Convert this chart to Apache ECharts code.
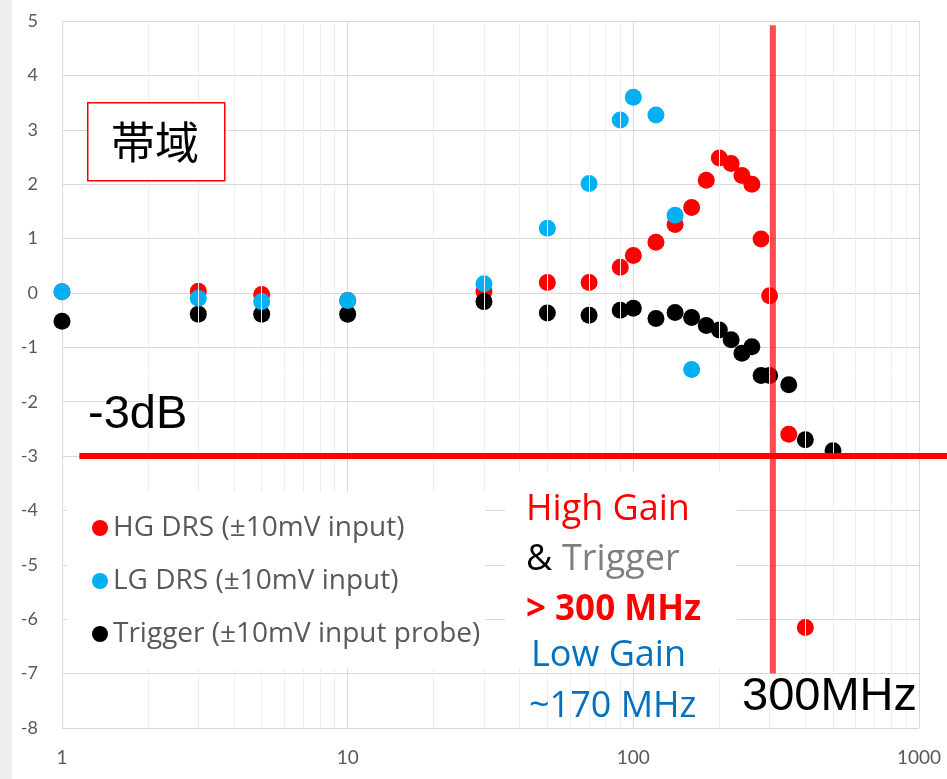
<!DOCTYPE html>
<html>
<head>
<meta charset="utf-8">
<script src="https://cdn.jsdelivr.net/npm/echarts@6/dist/echarts.min.js"></script>
<style>
html,body{margin:0;padding:0;background:#fff;}
#strip{position:absolute;left:0;top:0;width:12px;height:779px;background:#efefef;}
#main{position:absolute;left:0;top:0;width:947px;height:779px;}
</style>
</head>
<body>
<div id="main"></div>
<div id="strip"></div>
<script>
// ---- data (frequency in MHz, gain in dB) ----
const freqHG = [1, 3, 5, 10, 30, 50, 70, 90, 100, 120, 140, 160, 180, 200, 220, 240, 260, 280, 300, 350, 400];
const gainHG = [0.02, 0.03, -0.03, -0.14, 0.03, 0.19, 0.19, 0.47, 0.69, 0.93, 1.26, 1.57, 2.07, 2.48, 2.38, 2.16, 2.0, 0.99, -0.05, -2.6, -6.15];

const freqLG = [1, 3, 5, 10, 30, 50, 70, 90, 100, 120, 140, 160];
const gainLG = [0.02, -0.1, -0.16, -0.14, 0.17, 1.19, 2.01, 3.18, 3.6, 3.27, 1.43, -1.41];

const freqTrig = [1, 3, 5, 10, 30, 50, 70, 90, 100, 120, 140, 160, 180, 200, 220, 240, 260, 280, 300, 350, 400, 500];
const gainTrig = [-0.52, -0.39, -0.39, -0.39, -0.16, -0.37, -0.41, -0.32, -0.28, -0.47, -0.36, -0.45, -0.6, -0.68, -0.86, -1.11, -0.99, -1.52, -1.52, -1.69, -2.7, -2.9];

const seriesNames = ['HG DRS (±10mV input)', 'LG DRS (±10mV input)', 'Trigger (±10mV input probe)'];
const xTicks = [1, 10, 100, 1000];
const minorX = [2,3,4,5,6,7,8,9,20,30,40,50,60,70,80,90,200,300,400,500,600,700,800,900];
const limitDb = -3;
const limitFreqLine = 308;   // hand-placed 300 MHz marker line

function pairs(xs, ys) { return xs.map((x, i) => [x, ys[i]]); }

const chart = echarts.init(document.getElementById('main'), null, {renderer: 'canvas'});
const FONT = 'Lato';
const TFONT = '"Open Sans"';

chart.setOption({
  animation: false,
  backgroundColor: '#fff',
  grid: {left: 62, right: 28, top: 21, bottom: 51, containLabel: false},
  xAxis: {
    type: 'log', logBase: 10, min: 1, max: 1000,
    axisLine: {show: false}, axisTick: {show: false},
    splitLine: {show: true, lineStyle: {color: '#d9d9d9', width: 1}},
    axisLabel: {color: '#595959', fontFamily: FONT, fontSize: 19, margin: 20,
      formatter: v => (xTicks.indexOf(Math.round(v)) >= 0 ? String(Math.round(v)) : '')}
  },
  yAxis: {
    type: 'value', min: -8, max: 5, interval: 1,
    axisLine: {show: false}, axisTick: {show: false},
    splitLine: {show: true, lineStyle: {color: '#d9d9d9', width: 1}},
    axisLabel: {color: '#595959', fontFamily: FONT, fontSize: 18, margin: 24}
  },
  legend: {
    data: seriesNames,
    orient: 'vertical', left: 67, top: 492,
    backgroundColor: '#fff',
    padding: [21, 5, 20, 25],
    itemGap: 23, itemWidth: 16, itemHeight: 16, icon: 'circle',
    textStyle: {color: '#595959', fontFamily: 'Open Sans', fontSize: 28, lineHeight: 30},
    z: 6
  },
  series: [
    {
      name: 'minor', type: 'line', data: [], silent: true, z: 0,
      markLine: {
        silent: true, symbol: 'none', animation: false,
        label: {show: false},
        lineStyle: {color: '#eeeeee', width: 1, type: 'solid'},
        data: minorX.map(v => ({xAxis: v}))
      }
    },
    {name: seriesNames[0], type: 'scatter', symbolSize: 17, itemStyle: {color: '#ff0000', opacity: 1}, data: pairs(freqHG, gainHG), z: 2},
    {name: seriesNames[1], type: 'scatter', symbolSize: 17, itemStyle: {color: '#00b0f0', opacity: 1}, data: pairs(freqLG, gainLG), z: 3},
    {name: seriesNames[2], type: 'scatter', symbolSize: 17, itemStyle: {color: '#000000', opacity: 1}, data: pairs(freqTrig, gainTrig), z: 2}
  ]
});

// annotation lines positioned through the axes
const pH0 = chart.convertToPixel({gridIndex: 0}, [1.15, limitDb]);
const pV0 = chart.convertToPixel({gridIndex: 0}, [limitFreqLine, 4.92]);
const pV1 = chart.convertToPixel({gridIndex: 0}, [limitFreqLine, -7]);

chart.setOption({
  graphic: [
    // 帯域 box
    {type: 'rect', left: 87, top: 102, shape: {width: 137, height: 78},
      style: {fill: '#fff', stroke: '#ff0000', lineWidth: 1.5}, z: 10},
    {type: 'text', x: 155, y: 142, style: {text: '帯域', fill: '#000', font: '44px "Noto Sans CJK JP"', align: 'center', verticalAlign: 'middle'}, z: 11},
    // -3dB label
    {type: 'text', x: 88, y: 415, style: {text: '-3dB', fill: '#000', font: '47px "Liberation Sans"', verticalAlign: 'middle'}, z: 11},
    // horizontal -3 dB line
    {type: 'line', shape: {x1: pH0[0], y1: pH0[1], x2: 947, y2: pH0[1]},
      style: {stroke: '#ff0000', lineWidth: 6}, z: 12},
    // vertical 300 MHz line
    {type: 'line', shape: {x1: pV0[0], y1: pV0[1], x2: pV1[0], y2: pV1[1]},
      style: {stroke: 'rgba(255,0,0,0.7)', lineWidth: 6}, z: 12},
    // 300MHz label
    {type: 'text', x: 742, y: 697, style: {text: '300MHz', fill: '#000', font: '47px "Liberation Sans"', verticalAlign: 'middle'}, z: 11},
    // summary text box
    {type: 'rect', left: 505, top: 472, shape: {width: 232, height: 196}, style: {fill: '#fff'}, z: 9},
    {type: 'text', x: 526, y: 510, style: {text: 'High Gain', fill: '#ff0000', font: '36px ' + TFONT, verticalAlign: 'middle'}, z: 11},
    {type: 'text', x: 526, y: 560, style: {text: '&', fill: '#000', font: '36px ' + TFONT, verticalAlign: 'middle'}, z: 11},
    {type: 'text', x: 562, y: 560, style: {text: 'Trigger', fill: '#7f7f7f', font: '36px ' + TFONT, verticalAlign: 'middle'}, z: 11},
    {type: 'text', x: 526, y: 610, style: {text: '> 300 MHz', fill: '#ff0000', font: 'bold 35px ' + TFONT, verticalAlign: 'middle'}, z: 11},
    {type: 'text', x: 531, y: 656, style: {text: 'Low Gain', fill: '#0070c0', font: '36px ' + TFONT, verticalAlign: 'middle'}, z: 11},
    {type: 'text', x: 529, y: 707, style: {text: '~170 MHz', fill: '#0070c0', font: '36px ' + TFONT, verticalAlign: 'middle'}, z: 11}
  ]
});
</script>
</body>
</html>
